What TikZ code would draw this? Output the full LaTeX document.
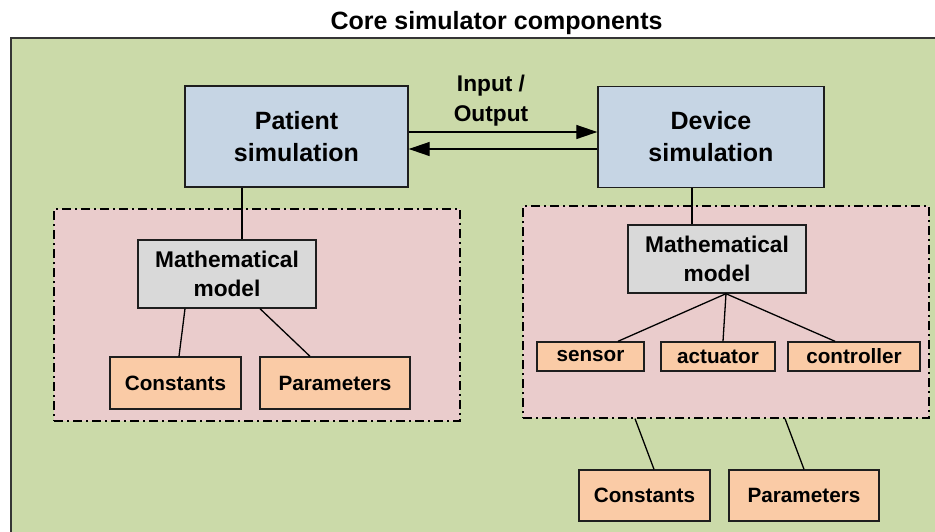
\documentclass[tikz,border=0pt]{standalone}
\usepackage{fontspec}
\setmainfont{Liberation Sans}
\usetikzlibrary{arrows.meta}
\definecolor{bggreen}{RGB}{203,218,169}
\definecolor{boxblue}{RGB}{198,213,228}
\definecolor{boxpink}{RGB}{234,204,204}
\definecolor{boxgray}{RGB}{217,217,217}
\definecolor{boxorange}{RGB}{250,203,166}
\definecolor{edge}{RGB}{30,30,30}
\tikzset{
  basebox/.style={draw=edge, line width=1.4pt, inner sep=0pt, align=center, font=\bfseries},
  simbox/.style={basebox, fill=boxblue, font=\bfseries\fontsize{25}{32}\selectfont},
  mathbox/.style={basebox, fill=boxgray, font=\bfseries\fontsize{22.7}{29}\selectfont},
  leafbox/.style={basebox, fill=boxorange, font=\bfseries\fontsize{20.7}{26}\selectfont},
  groupbox/.style={draw=black, fill=boxpink, line width=1.3pt, inner sep=0pt,
    dash pattern=on 9pt off 4pt on 2pt off 4pt},
  link/.style={draw=black, line width=1.3pt},
  iolink/.style={link, -{Triangle[length=21pt,width=14pt]}}
}
\begin{document}
\begin{tikzpicture}[x=1pt,y=-1pt]
\useasboundingbox (0,0) rectangle (935,531);
% background panel
\fill[bggreen] (11,38) rectangle (945,545);
\draw[edge!90!white, line width=2.2pt] (11,545) -- (11,38) -- (945,38);
\node[anchor=base, font=\bfseries\fontsize{25}{30}\selectfont] (title) at (496.5,29) {Core simulator components};

% group boxes
\node[groupbox, minimum width=406pt, minimum height=212pt] (pinkL) at (257,315) {};
\node[groupbox, minimum width=406pt, minimum height=212pt] (pinkR) at (726,312) {};

% simulation boxes
\node[simbox, minimum width=223pt, minimum height=101pt] (patient) at (296.5,136.5) {Patient\\simulation};
\node[simbox, minimum width=226pt, minimum height=101pt] (device) at (711,137) {Device\\simulation};

\node[font=\bfseries\fontsize{22.7}{30}\selectfont, align=center, inner sep=0pt] (io) at (491,101) {Input /\\Output};

% math models
\node[mathbox, minimum width=178pt, minimum height=68pt] (mathL) at (227,274) {Mathematical\\model};
\node[mathbox, minimum width=178pt, minimum height=68pt] (mathR) at (717,259) {Mathematical\\model};

% leaves left
\node[leafbox, minimum width=131pt, minimum height=52pt] (constL) at (175.5,383) {Constants};
\node[leafbox, minimum width=150pt, minimum height=52pt] (paramL) at (335,383) {Parameters};

% leaves right inside
\node[leafbox, minimum width=107pt, minimum height=29pt] (sensor) at (590.5,356.5) {sensor};
\node[leafbox, minimum width=114pt, minimum height=29pt] (actuator) at (718,356.5) {actuator};
\node[leafbox, minimum width=132pt, minimum height=29pt] (controller) at (854,356.5) {controller};

% leaves right outside
\node[leafbox, minimum width=131pt, minimum height=51pt] (constR) at (644.5,495.5) {Constants};
\node[leafbox, minimum width=150pt, minimum height=51pt] (paramR) at (804,495.5) {Parameters};

% I/O arrows
\draw[iolink] (patient.east |- 0,132) -- (device.west |- 0,132);
\draw[iolink] (device.west |- 0,149) -- (patient.east |- 0,149);

% connectors left
\draw[link] (242,0 |- patient.south) -- (242,0 |- mathL.north);
\draw[link] (185,0 |- mathL.south) -- (179,0 |- constL.north);
\draw[link] (260,0 |- mathL.south) -- (310,0 |- paramL.north);

% connectors right
\draw[link] (692,0 |- device.south) -- (692,0 |- mathR.north);
\coordinate (apex) at (726,0 |- mathR.south);
\draw[link] (apex) -- (618,0 |- sensor.north);
\draw[link] (apex) -- (723,0 |- actuator.north);
\draw[link] (apex) -- (835,0 |- controller.north);
\draw[link] (635,0 |- pinkR.south) -- (654,0 |- constR.north);
\draw[link] (785,0 |- pinkR.south) -- (804,0 |- paramR.north);
\end{tikzpicture}
\end{document}
